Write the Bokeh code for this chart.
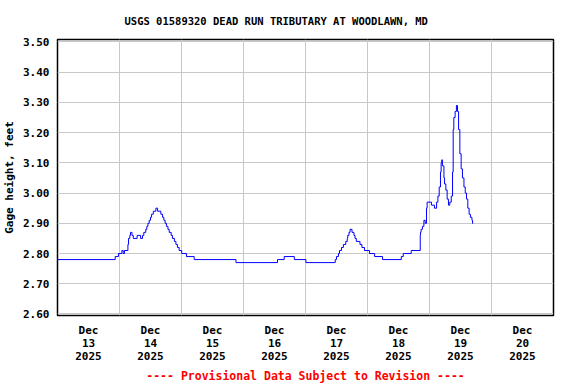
import pandas as pd
from bokeh.plotting import figure
from bokeh.models import FixedTicker, Range1d, Title
from bokeh.embed import file_html
from bokeh.resources import INLINE

# ---- data ----
times = [
    "2025-12-13 00:00", "2025-12-13 22:20", "2025-12-13 23:35", "2025-12-14 00:55", "2025-12-14 01:25",
    "2025-12-14 01:55", "2025-12-14 03:15", "2025-12-14 03:30", "2025-12-14 04:00", "2025-12-14 04:15",
    "2025-12-14 04:50", "2025-12-14 05:20", "2025-12-14 06:50", "2025-12-14 08:10", "2025-12-14 08:55",
    "2025-12-14 09:25", "2025-12-14 10:10", "2025-12-14 10:35", "2025-12-14 11:00", "2025-12-14 11:30",
    "2025-12-14 12:00", "2025-12-14 12:25", "2025-12-14 13:05", "2025-12-14 14:05", "2025-12-14 14:45",
    "2025-12-14 16:00", "2025-12-14 16:40", "2025-12-14 17:10", "2025-12-14 17:40", "2025-12-14 18:10",
    "2025-12-14 18:45", "2025-12-14 19:15", "2025-12-14 20:00", "2025-12-14 20:30", "2025-12-14 21:15",
    "2025-12-14 21:50", "2025-12-14 22:25", "2025-12-14 23:05", "2025-12-15 00:05", "2025-12-15 01:55",
    "2025-12-15 04:55", "2025-12-15 21:05", "2025-12-16 13:10", "2025-12-16 15:45", "2025-12-16 19:40",
    "2025-12-17 00:10", "2025-12-17 11:30", "2025-12-17 12:00", "2025-12-17 12:45", "2025-12-17 13:10",
    "2025-12-17 13:55", "2025-12-17 14:40", "2025-12-17 15:35", "2025-12-17 16:10", "2025-12-17 16:20",
    "2025-12-17 16:50", "2025-12-17 17:15", "2025-12-17 18:00", "2025-12-17 18:45", "2025-12-17 19:10",
    "2025-12-17 19:40", "2025-12-17 21:05", "2025-12-17 21:50", "2025-12-17 22:50", "2025-12-18 00:45",
    "2025-12-18 02:45", "2025-12-18 05:50", "2025-12-18 13:05", "2025-12-18 13:50", "2025-12-18 16:55",
    "2025-12-18 20:25", "2025-12-18 20:30", "2025-12-18 20:45", "2025-12-18 21:15", "2025-12-18 21:50",
    "2025-12-18 22:20", "2025-12-18 22:50", "2025-12-18 23:05", "2025-12-19 00:45", "2025-12-19 01:55",
    "2025-12-19 02:45", "2025-12-19 03:15", "2025-12-19 03:45", "2025-12-19 04:15", "2025-12-19 04:30",
    "2025-12-19 04:45", "2025-12-19 05:00", "2025-12-19 05:35", "2025-12-19 05:50", "2025-12-19 06:20",
    "2025-12-19 06:50", "2025-12-19 07:20", "2025-12-19 07:50", "2025-12-19 08:25", "2025-12-19 08:55",
    "2025-12-19 09:10", "2025-12-19 09:25", "2025-12-19 09:55", "2025-12-19 10:25", "2025-12-19 10:50",
    "2025-12-19 11:15", "2025-12-19 11:45", "2025-12-19 12:15", "2025-12-19 12:45", "2025-12-19 13:20",
    "2025-12-19 13:50", "2025-12-19 14:20", "2025-12-19 14:50", "2025-12-19 15:20", "2025-12-19 15:50",
    "2025-12-19 16:25", "2025-12-19 16:40", "2025-12-19 16:55",
]
gage_ft = [
    2.78, 2.79, 2.80, 2.81, 2.80,
    2.81, 2.83, 2.85, 2.86, 2.87,
    2.86, 2.85, 2.86, 2.85, 2.86,
    2.87, 2.88, 2.89, 2.90, 2.91,
    2.92, 2.93, 2.94, 2.95, 2.94,
    2.93, 2.92, 2.91, 2.90, 2.89,
    2.88, 2.87, 2.86, 2.85, 2.84,
    2.83, 2.82, 2.81, 2.80, 2.79,
    2.78, 2.77, 2.78, 2.79, 2.78,
    2.77, 2.78, 2.79, 2.80, 2.81,
    2.82, 2.83, 2.84, 2.85, 2.86,
    2.87, 2.88, 2.87, 2.86, 2.85,
    2.84, 2.83, 2.82, 2.81, 2.80,
    2.79, 2.78, 2.79, 2.80, 2.81,
    2.86, 2.87, 2.88, 2.89, 2.91,
    2.90, 2.95, 2.97, 2.96, 2.95,
    2.97, 2.99, 3.02, 3.07, 3.10,
    3.11, 3.09, 3.05, 3.03, 3.01,
    2.98, 2.96, 2.97, 2.99, 3.07,
    3.21, 3.25, 3.27, 3.29, 3.27,
    3.21, 3.13, 3.08, 3.05, 3.02,
    3.00, 2.98, 2.95, 2.93, 2.92,
    2.91, 2.90, 2.90,
]
day_labels = ["Dec\n13\n2025", "Dec\n14\n2025", "Dec\n15\n2025", "Dec\n16\n2025",
              "Dec\n17\n2025", "Dec\n18\n2025", "Dec\n19\n2025", "Dec\n20\n2025"]
y_ticks = [2.60, 2.70, 2.80, 2.90, 3.00, 3.10, 3.20, 3.30, 3.40, 3.50]
title_text = "USGS 01589320 DEAD RUN TRIBUTARY AT WOODLAWN, MD"
footer_text = "---- Provisional Data Subject to Revision ----"
y_label = "Gage height, feet"

FONT = "DejaVu Sans Mono"

t = pd.to_datetime(times)
start = pd.Timestamp("2025-12-13 00:00")
x0 = float(start.value // 10**6)
day_ms = 86400000.0
midnights = [x0 + i * day_ms for i in range(9)]
noons = [x0 + (i + 0.5) * day_ms for i in range(8)]

p = figure(x_axis_type="datetime", output_backend="svg", toolbar_location=None,
           frame_width=496, frame_height=276,
           min_border_left=55, min_border_right=14, min_border_top=38, min_border_bottom=5,
           x_range=Range1d(x0, x0 + 8 * day_ms), y_range=Range1d(2.595, 3.508))

p.step(t, gage_ft, mode="after", line_color="#0000ff", line_width=1)

p.outline_line_color = "black"
p.outline_line_width = 1.5

p.xaxis.ticker = FixedTicker(ticks=noons)
p.xaxis.major_label_overrides = {n: lab for n, lab in zip(noons, day_labels)}
p.xgrid.ticker = FixedTicker(ticks=midnights)
p.yaxis.ticker = FixedTicker(ticks=y_ticks)
p.yaxis.major_label_overrides = {v: f"{v:.2f}" for v in y_ticks}
p.ygrid.ticker = FixedTicker(ticks=y_ticks)

for ax in (p.xaxis[0], p.yaxis[0]):
    ax.axis_line_color = None
    ax.major_tick_line_color = None
    ax.minor_tick_line_color = None
    ax.major_tick_in = 0
    ax.major_tick_out = 0
    ax.major_label_text_font = FONT
    ax.major_label_text_font_style = "bold"
    ax.major_label_text_font_size = "11px"
    ax.major_label_text_color = "black"

p.xaxis.major_label_standoff = 8
p.xaxis.major_label_text_line_height = 1.0
p.yaxis.major_label_standoff = 8
p.yaxis.axis_label = y_label
p.yaxis.axis_label_text_font = FONT
p.yaxis.axis_label_text_font_style = "bold"
p.yaxis.axis_label_text_font_size = "11px"
p.yaxis.axis_label_text_color = "black"
p.yaxis.axis_label_standoff = 4

p.grid.grid_line_color = "#c8c8c8"
p.grid.grid_line_width = 1

p.title = Title(text=title_text, align="left", offset=67, standoff=25, text_font=FONT,
                text_font_style="bold", text_font_size="10.5px", text_color="black")
p.add_layout(Title(text=footer_text, align="center", standoff=3, text_font=FONT,
                   text_font_style="bold", text_font_size="11.5px", text_color="#ff0000"), "below")

open("out.html", "w").write(file_html(p, INLINE))
